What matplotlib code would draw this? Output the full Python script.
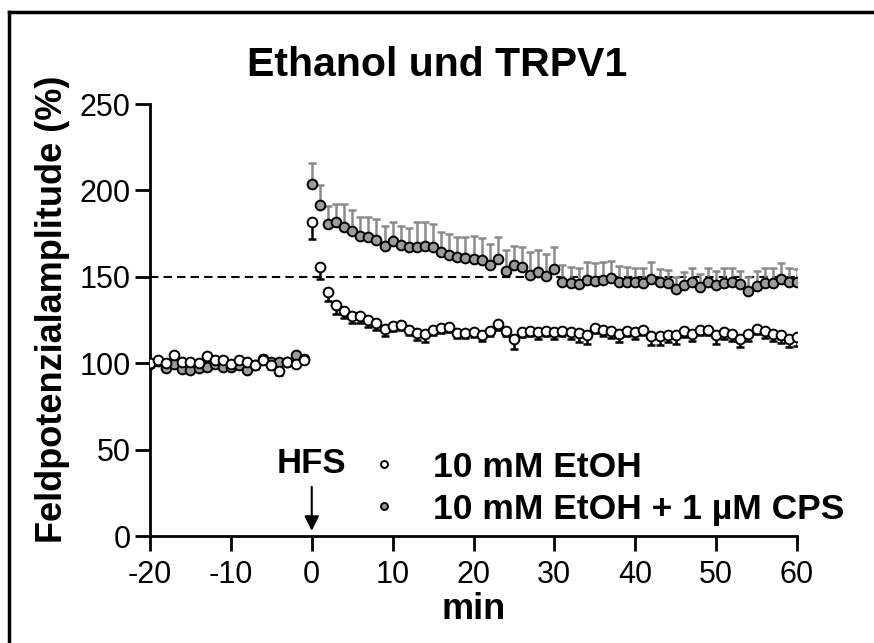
import matplotlib
matplotlib.use("Agg")
import matplotlib.pyplot as plt
from matplotlib.lines import Line2D
import numpy as np

plt.rcParams['font.family'] = ['Liberation Sans', 'DejaVu Sans']
plt.rcParams['axes.unicode_minus'] = False

# time axis (min)
t_base = list(range(-20, 0))
t_post = list(range(0, 61))

# 10 mM EtOH (white)
etoh_base = [100.1, 101.6, 100.0, 104.5, 100.7, 100.7, 100.1, 103.9, 102.0, 101.6,
             99.7, 101.6, 100.7, 98.7, 101.6, 98.7, 95.4, 100.7, 99.7, 102.0]
etoh_base_err = [2, 2, 2, 2, 2, 2, 2, 2, 2, 2, 2, 2, 2, 2, 2, 2, 2, 2, 2, 2]
etoh_post = [182.0, 155.9, 141.0, 133.4, 130.1, 127.2, 127.2, 125.1, 123.2, 119.9,
             121.8, 122.2, 119.3, 117.4, 117.0, 119.3, 120.3, 120.9, 117.4, 117.4,
             118.0, 116.6, 118.9, 122.4, 118.9, 114.1, 118.0, 118.9, 118.0, 118.9,
             118.0, 118.9, 118.0, 117.4, 116.1, 120.3, 119.5, 118.6, 117.0, 118.9,
             117.8, 119.5, 115.5, 115.5, 116.1, 116.1, 118.9, 117.0, 119.5, 119.5,
             116.1, 118.0, 117.0, 114.1, 117.0, 119.9, 118.6, 117.0, 116.6, 114.1,
             115.1]
etoh_post_err = [10, 7, 5, 5, 4, 4, 4, 4, 4, 4,
                 3, 3, 3, 4, 5, 3, 3, 3, 3, 3,
                 3, 4, 3, 3, 3, 6, 3, 3, 4, 3,
                 4, 3, 4, 5, 5, 3, 4, 4, 5, 3,
                 4, 3, 5, 5, 4, 5, 4, 4, 3, 3,
                 5, 4, 4, 5, 4, 3, 4, 4, 5, 5,
                 5]

# 10 mM EtOH + 1 uM CPS (grey)
cps_base = [99.7, 101.2, 97.2, 99.3, 96.6, 96.2, 97.2, 97.8, 99.7, 97.8,
            97.8, 98.7, 96.2, 98.7, 102.6, 100.7, 100.7, 100.7, 104.5, 102.6]
cps_base_err = [2, 2, 2, 2, 2, 2, 2, 2, 2, 2, 2, 2, 2, 2, 2, 2, 2, 2, 2, 2]
cps_post = [203.6, 191.7, 180.5, 181.5, 178.6, 176.3, 173.8, 173.2, 171.3, 168.0,
            170.9, 168.4, 167.0, 167.4, 168.0, 167.4, 164.5, 162.6, 161.3, 160.7,
            160.4, 159.9, 156.9, 160.4, 153.6, 156.9, 155.5, 151.3, 152.6, 150.7,
            154.5, 146.8, 146.3, 145.9, 148.2, 147.8, 148.2, 149.4, 147.2, 146.8,
            146.8, 146.5, 148.8, 146.8, 146.3, 143.0, 145.3, 146.8, 143.9, 146.8,
            145.3, 146.5, 147.2, 145.9, 142.0, 144.9, 146.3, 146.3, 148.8, 146.8,
            146.8]
cps_post_err = [12.4, 11.5, 10.6, 10.5, 13.4, 12.2, 10.6, 11.2, 12.1, 11.6,
                11.1, 11.2, 11.2, 14.1, 13.9, 13.1, 11.2, 12.0, 11.9, 12.5,
                13.4, 12.5, 12.0, 12.8, 11.9, 10.7, 12.0, 12.9, 13.0, 12.5,
                12.5, 10.2, 9.6, 9.0, 10.5, 10.0, 10.5, 10.0, 9.0, 9.0,
                8.5, 8.5, 9.5, 8.0, 7.5, 7.0, 7.5, 8.5, 8.0, 8.5,
                8.0, 8.5, 8.0, 7.5, 8.0, 8.5, 9.0, 9.0, 9.0, 8.5,
                8.0]

t_all = t_base + t_post
etoh = etoh_base + etoh_post
etoh_err = etoh_base_err + etoh_post_err
cps = cps_base + cps_post
cps_err = cps_base_err + cps_post_err

grey = '#9b9b9b'

fig = plt.figure(figsize=(8.74, 6.43), dpi=100)
ax = fig.add_axes([150 / 874, 1 - 536 / 643, (797 - 150) / 874, (536 - 104) / 643])

ax.axhline(150, color='black', lw=1.5, dashes=(4, 2.5), zorder=1)

zeros = np.zeros(len(t_all))
ax.errorbar(t_all, cps, yerr=[zeros, cps_err], fmt='none', ecolor='#8a8a8a',
            elinewidth=1.8, capsize=3, capthick=1.8, zorder=2)
ax.errorbar(t_all, etoh, yerr=[etoh_err, zeros], fmt='none', ecolor='black',
            elinewidth=1.8, capsize=3, capthick=1.8, zorder=2)
ax.plot(t_all, cps, 'o', ms=7, mfc=grey, mec='black', mew=1.4, zorder=3)
ax.plot(t_all, etoh, 'o', ms=7, mfc='white', mec='black', mew=1.4, zorder=4)

ax.set_xlim(-20, 60)
ax.set_ylim(0, 250)
ax.set_xticks(range(-20, 61, 10))
ax.set_yticks(range(0, 251, 50))
ax.spines['top'].set_visible(False)
ax.spines['right'].set_visible(False)
for s in ('left', 'bottom'):
    ax.spines[s].set_linewidth(2)
ax.tick_params(axis='both', length=11, width=2, labelsize=22)
ax.tick_params(axis='x', pad=6)
ax.tick_params(axis='y', pad=3)
ax.set_xlabel('min', fontsize=26, fontweight='bold', labelpad=2)
ax.set_ylabel('Feldpotenzialamplitude (%)', fontsize=26, fontweight='bold',
              labelpad=7, y=0.525)

fig.text(0.5, 1 - 76 / 643, 'Ethanol und TRPV1', ha='center', va='baseline',
         fontsize=29.5, fontweight='bold')

ax.annotate('HFS', xy=(0, 3), xytext=(0, 42), ha='center', va='center',
            fontsize=25, fontweight='bold',
            arrowprops=dict(arrowstyle='-|>', color='black', lw=1.5,
                            mutation_scale=22, shrinkA=3, shrinkB=0))

handles = [Line2D([], [], ls='none', marker='o', ms=5, mfc='white', mec='black', mew=1.4),
           Line2D([], [], ls='none', marker='o', ms=5, mfc=grey, mec='black', mew=1.4)]
leg = ax.legend(handles, ['10 mM EtOH', '10 mM EtOH + 1 µM CPS'],
                loc='lower left', bbox_to_anchor=(0.312, -0.009), frameon=False,
                prop={'size': 25.5, 'weight': 'bold'}, handlelength=1.0,
                handletextpad=0.9, labelspacing=0.25, borderaxespad=0)

# frame around the figure (left and top edges visible)
fig.add_artist(Line2D([9 / 874, 9 / 874], [0, 1 - 12 / 643], color='black', lw=2.5,
                      transform=fig.transFigure))
fig.add_artist(Line2D([9 / 874, 1], [1 - 12 / 643, 1 - 12 / 643], color='black', lw=2.5,
                      transform=fig.transFigure))

fig.savefig('out.png', dpi=100)
plt.close(fig)
